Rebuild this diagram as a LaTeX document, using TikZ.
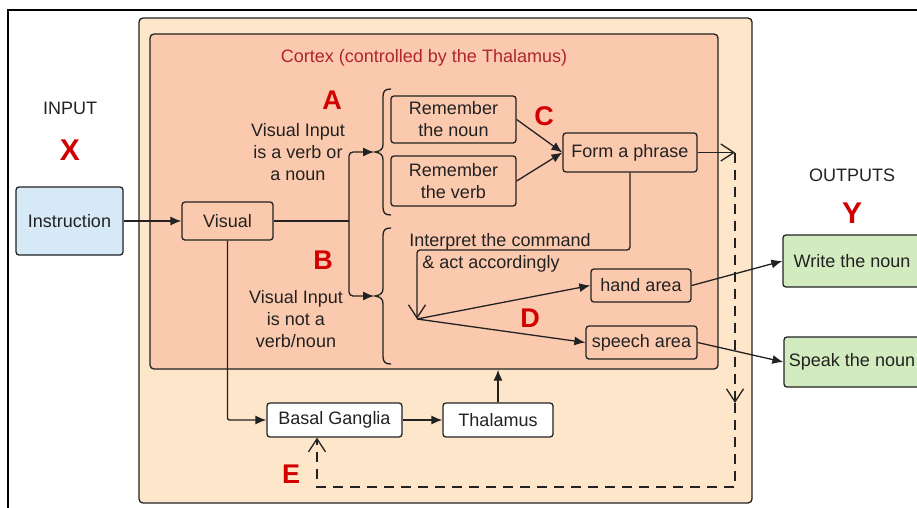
\documentclass[tikz,border=0pt]{standalone}
\usepackage{fontspec}
\setmainfont{Liberation Sans}
\usetikzlibrary{arrows.meta}
\definecolor{outerfill}{HTML}{FDE6C9}
\definecolor{cortexfill}{HTML}{FBC9AD}
\definecolor{bluefill}{HTML}{D5E9F7}
\definecolor{greenfill}{HTML}{D3ECBF}
\definecolor{letterred}{HTML}{D20000}
\definecolor{titlered}{HTML}{B0242E}
\definecolor{ink}{HTML}{222222}
\begin{document}
\begin{tikzpicture}[x=1pt,y=-1pt,
  every node/.style={font=\fontsize{18}{22}\selectfont, text=ink},
  lw/.style={line width=1.3pt, draw=ink},
  bx/.style={lw, rounded corners=3pt, fill=cortexfill, inner sep=0pt, align=center},
  wbx/.style={bx, fill=white},
  letter/.style={font=\fontsize{27}{30}\selectfont\bfseries, text=letterred},
  bigletter/.style={font=\fontsize{30}{32}\selectfont\bfseries, text=letterred},
  lbl/.style={align=center, inner sep=0pt},
  arr/.style={lw, -{Latex[length=11pt,width=9pt]}},
  oarr/.style={lw, -{Straight Barb[length=13pt,width=17pt,line width=1.3pt]}},
  dsh/.style={lw, dash pattern=on 10pt off 7pt}
]
\useasboundingbox (0,0) rectangle (917,507);
% outer frame
\draw[line width=1.5pt, draw=black] (917,10) -- (8,10) -- (8,510);
% containers
\node[lw, rounded corners=4pt, fill=outerfill, minimum width=613pt, minimum height=485pt, inner sep=0pt] (outer) at (445.5,260.5) {};
\node[lw, rounded corners=4pt, fill=cortexfill, minimum width=568pt, minimum height=335pt, inner sep=0pt] (cortex) at (434,201.5) {};
\node[lbl, text=titlered] (title) at (424,58) {Cortex (controlled by the Thalamus)};

% labels
\node[lbl] (inlabel) at (70,108) {INPUT};
\node[bigletter] (X) at (70,150) {X};
\node[lbl] (outlabel) at (852,175) {OUTPUTS};
\node[bigletter] (Y) at (852,213) {Y};
\node[letter] (A) at (332,100) {A};
\node[letter] (B) at (323,260) {B};
\node[letter] (C) at (544,116) {C};
\node[letter] (D) at (530,318) {D};
\node[letter] (E) at (291,474) {E};
\node[lbl] (txtA) at (298,152) {Visual Input\\is a verb or\\a noun};
\node[lbl] (txtB) at (296,319) {Visual Input\\is not a\\verb/noun};
\node[lbl] (interp1) at (500,242) {Interpret the command};
\node[lbl] (interp2) at (491,264) {\& act accordingly};

% boxes
\node[bx, fill=bluefill, minimum width=107pt, minimum height=68pt] (instr) at (69.5,221) {Instruction};
\node[bx, minimum width=91pt, minimum height=38pt] (vis) at (227.5,221) {Visual};
\node[bx, minimum width=125pt, minimum height=47pt] (noun) at (453.5,119.5) {Remember\\the noun};
\node[bx, minimum width=125pt, minimum height=50pt] (verb) at (453.5,181) {Remember\\the verb};
\node[bx, minimum width=134pt, minimum height=39pt] (form) at (630,152.5) {Form a phrase};
\node[bx, minimum width=100pt, minimum height=33pt] (hand) at (641,285.5) {hand area};
\node[bx, minimum width=111pt, minimum height=33pt] (speech) at (641.5,342.5) {speech area};
\node[wbx, minimum width=135pt, minimum height=34pt] (basal) at (334.5,420) {Basal Ganglia};
\node[wbx, minimum width=110pt, minimum height=34pt] (thal) at (498,420) {Thalamus};
\node[bx, fill=greenfill, minimum width=142pt, minimum height=52pt] (write) at (854,261) {Write the noun\hspace*{4pt}};
\node[bx, fill=greenfill, minimum width=141pt, minimum height=50pt] (speak) at (854.5,362) {Speak the noun\hspace*{5pt}};

% braces
\draw[lw] (391,89) .. controls (385,89) and (383,91) .. (383,97) -- (383,144)
  .. controls (383,149) and (381,151) .. (375,152) .. controls (381,153) and (383,155) .. (383,160)
  -- (383,207) .. controls (383,213) and (385,215) .. (391,215);
\draw[lw] (391,228) .. controls (385,228) and (383,230) .. (383,236) -- (383,288)
  .. controls (383,293) and (381,295) .. (375,296) .. controls (381,297) and (383,299) .. (383,304)
  -- (383,356) .. controls (383,362) and (385,364) .. (391,364);

% coordinates
\coordinate (br) at (349,221);
\coordinate (tipA) at (374,152);
\coordinate (tipB) at (374,296);
\coordinate (fr) at (735,152.5);
\coordinate (dmid) at (735,403);
\coordinate (dmidpre) at (735,398);
\coordinate (dcorner) at (735,487);
\coordinate (ecorner) at (317,487);
\coordinate (epre) at (317,442);

% connectors
\draw[arr] (instr) -- (vis);
\draw[lw] (vis.east) -- (br);
\draw[arr, rounded corners=4pt] (br) |- (tipA);
\draw[arr, rounded corners=4pt] (br) |- (tipB);
\draw[arr] (noun.east) -- (form.west);
\draw[arr] (verb.east) -- (form.west);
\draw[oarr] (form.east) -- (fr);
\draw[dsh] (fr) -- (dmidpre);
\draw[oarr] (dmidpre) -- (dmid);
\draw[dsh] (dmid) -- (dcorner) -- (ecorner) -- (epre);
\draw[oarr] (epre) -- (epre |- basal.south);
\coordinate (bend) at (417,250);
\coordinate (fork) at (417,319);
\draw[oarr, rounded corners=3pt] (form.south) |- (bend) -- (fork);
\draw[arr] (fork) -- (hand.west);
\draw[arr] (fork) -- (speech.west);
\draw[arr] (hand.east) -- (write.west);
\draw[arr] (speech.east) -- (speak.west);
\draw[arr, rounded corners=2pt] (vis.south) |- (basal.west);
\draw[arr] (basal) -- (thal);
\draw[arr] (thal.north) -- (thal.north |- cortex.south);
\end{tikzpicture}
\end{document}
